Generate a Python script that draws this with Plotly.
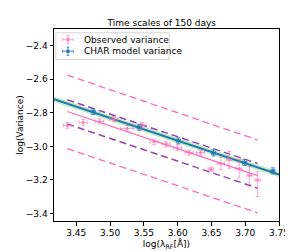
import plotly.graph_objects as go

# Observed variance
obs_x = [3.4367, 3.4601, 3.4846, 3.5053, 3.5253, 3.5475, 3.5652, 3.5830, 3.5997,
         3.6170, 3.6339, 3.6492, 3.6641, 3.6761, 3.6911, 3.7064, 3.7184]
obs_y = [-2.875, -2.857, -2.851, -2.838, -2.893, -2.875, -2.973, -2.986, -3.009,
         -3.037, -3.037, -3.137, -3.102, -3.080, -3.133, -3.174, -3.201]
obs_xerr = [0.006, 0.006, 0.006, 0.006, 0.010, 0.006, 0.006, 0.006, 0.006,
            0.006, 0.006, 0.004, 0.005, 0.004, 0.004, 0.004, 0.004]
obs_yerr_p = [0.017, 0.017, 0.015, 0.015, 0.017, 0.017, 0.017, 0.017, 0.017,
              0.015, 0.015, 0.012, 0.037, 0.050, 0.055, 0.055, 0.050]
obs_yerr_m = [0.017, 0.017, 0.015, 0.015, 0.017, 0.017, 0.017, 0.017, 0.017,
              0.015, 0.015, 0.012, 0.037, 0.050, 0.055, 0.055, 0.098]

# CHAR model variance
char_x = [3.475, 3.543, 3.601, 3.653, 3.699, 3.741]
char_y = [-2.792, -2.886, -2.967, -3.039, -3.096, -3.146]
char_xerr = [0.003, 0.003, 0.003, 0.003, 0.003, 0.003]
char_yerr = [0.018, 0.018, 0.018, 0.018, 0.018, 0.018]

# Fit lines (endpoints)
model_x = [3.417, 3.750]
model_y = [-2.719, -3.168]
band_half = 0.016

fit_x = [3.4367, 3.7184]
obs_fit_y = [-2.792, -3.174]
purple_up_y = [-2.722, -3.102]
purple_lo_y = [-2.866, -3.249]
pink_up_y = [-2.575, -2.962]
pink_lo_y = [-3.013, -3.396]

legend_labels = ["Observed variance", "CHAR model variance"]

PINK = "#ff69b4"
PINK_A = "rgba(255,105,180,0.6)"
PURPLE = "#9a3fb0"
BLUE = "#1f77b4"
BLUE_A = "rgba(31,119,180,0.8)"

W, H = 293, 251
ML, MR, MT, MB = 27, 16, 21, 23
PW, PH = W - ML - MR, H - MT - MB


def px(xp):
    return (xp - ML) / PW


def py(yp):
    return (H - MB - yp) / PH


fig = go.Figure()

dash = "7px,4px"
for ys in (pink_up_y, pink_lo_y):
    fig.add_trace(go.Scatter(x=fit_x, y=ys, mode="lines", showlegend=False,
                             line=dict(color=PINK, width=1.3, dash=dash)))
for ys in (purple_up_y, purple_lo_y):
    fig.add_trace(go.Scatter(x=fit_x, y=ys, mode="lines", showlegend=False,
                             line=dict(color=PURPLE, width=1.5, dash=dash)))
fig.add_trace(go.Scatter(x=fit_x, y=obs_fit_y, mode="lines", showlegend=False,
                         line=dict(color=PINK, width=1.3)))

# green band
fig.add_trace(go.Scatter(x=model_x, y=[v + band_half for v in model_y], mode="lines",
                         line=dict(width=0), showlegend=False, hoverinfo="skip"))
fig.add_trace(go.Scatter(x=model_x, y=[v - band_half for v in model_y], mode="lines",
                         line=dict(width=0), fill="tonexty",
                         fillcolor="rgba(144,220,144,0.55)", showlegend=False, hoverinfo="skip"))
fig.add_trace(go.Scatter(x=model_x, y=model_y, mode="lines", showlegend=False,
                         line=dict(color=BLUE, width=2)))

fig.add_trace(go.Scatter(
    x=obs_x, y=obs_y, mode="markers", name=legend_labels[0], showlegend=False,
    marker=dict(color="rgba(255,105,180,0.7)", size=3),
    error_x=dict(type="data", array=obs_xerr, color=PINK_A, thickness=1, width=2),
    error_y=dict(type="data", array=obs_yerr_p, arrayminus=obs_yerr_m, symmetric=False,
                 color=PINK_A, thickness=1, width=2),
))
fig.add_trace(go.Scatter(
    x=char_x, y=char_y, mode="markers", name=legend_labels[1], showlegend=False,
    marker=dict(color=BLUE, size=3.5),
    error_x=dict(type="data", array=char_xerr, color=BLUE_A, thickness=1, width=2),
    error_y=dict(type="data", array=char_yerr, color=BLUE_A, thickness=1, width=2),
))

# Manual compact legend (matplotlib style)
shapes = [dict(type="rect", xref="paper", yref="paper", x0=px(29), x1=px(155),
               y0=py(54), y1=py(25), line=dict(color="#d6d6d6", width=1),
               fillcolor="rgba(255,255,255,0.85)", layer="above")]
annotations = []
glyphs = [(32.5, PINK_A, 3.5, "rgba(255,105,180,0.8)"), (45, BLUE_A, 3.5, BLUE)]
for (cy, col, msz, mcol), label in zip(glyphs, legend_labels):
    cx = 42.5
    segs = [((cx - 6, cy), (cx + 6, cy)), ((cx, cy - 4.5), (cx, cy + 4.5)),
            ((cx - 6, cy - 1.5), (cx - 6, cy + 1.5)), ((cx + 6, cy - 1.5), (cx + 6, cy + 1.5)),
            ((cx - 1.5, cy - 4.5), (cx + 1.5, cy - 4.5)), ((cx - 1.5, cy + 4.5), (cx + 1.5, cy + 4.5))]
    for (a, b) in segs:
        shapes.append(dict(type="line", xref="paper", yref="paper", x0=px(a[0]), y0=py(a[1]),
                           x1=px(b[0]), y1=py(b[1]), line=dict(color=col, width=1), layer="above"))
    shapes.append(dict(type="rect", xref="paper", yref="paper", x0=px(cx - msz / 2),
                       x1=px(cx + msz / 2), y0=py(cy + msz / 2), y1=py(cy - msz / 2),
                       line=dict(width=0), fillcolor=mcol, layer="above"))
    annotations.append(dict(text=label, xref="paper", yref="paper", x=px(58), y=py(cy),
                            xanchor="left", yanchor="middle", showarrow=False,
                            font=dict(size=9, color="black")))

axis_common = dict(showgrid=False, zeroline=False, showline=True, linecolor="black",
                   linewidth=1, mirror=True, ticks="outside", ticklen=3.5,
                   tickcolor="black", tickfont=dict(size=9, color="black"))

fig.update_layout(
    width=W, height=H,
    margin=dict(l=ML, r=MR, t=MT, b=MB),
    paper_bgcolor="white", plot_bgcolor="white",
    showlegend=False,
    font=dict(family="DejaVu Sans", size=9, color="black"),
    title=dict(text="Time scales of 150 days", x=0.525, xanchor="center",
               y=1 - 15 / 251, yanchor="middle", font=dict(size=9)),
    xaxis=dict(range=[3.417, 3.75], tickvals=[3.45, 3.50, 3.55, 3.60, 3.65, 3.70, 3.75],
               ticktext=["3.45", "3.50", "3.55", "3.60", "3.65", "3.70", "3.75"],
               title=dict(text="log(λ<sub>RF</sub>[Å])", standoff=2, font=dict(size=9)),
               **axis_common),
    yaxis=dict(range=[-3.445, -2.30], tickvals=[-3.4, -3.2, -3.0, -2.8, -2.6, -2.4],
               ticktext=["−3.4", "−3.2", "−3.0", "−2.8", "−2.6", "−2.4"],
               title=dict(text="log(Variance)", standoff=0, font=dict(size=9)),
               **axis_common),
    shapes=shapes,
    annotations=annotations,
)

fig.write_html("out.html")
